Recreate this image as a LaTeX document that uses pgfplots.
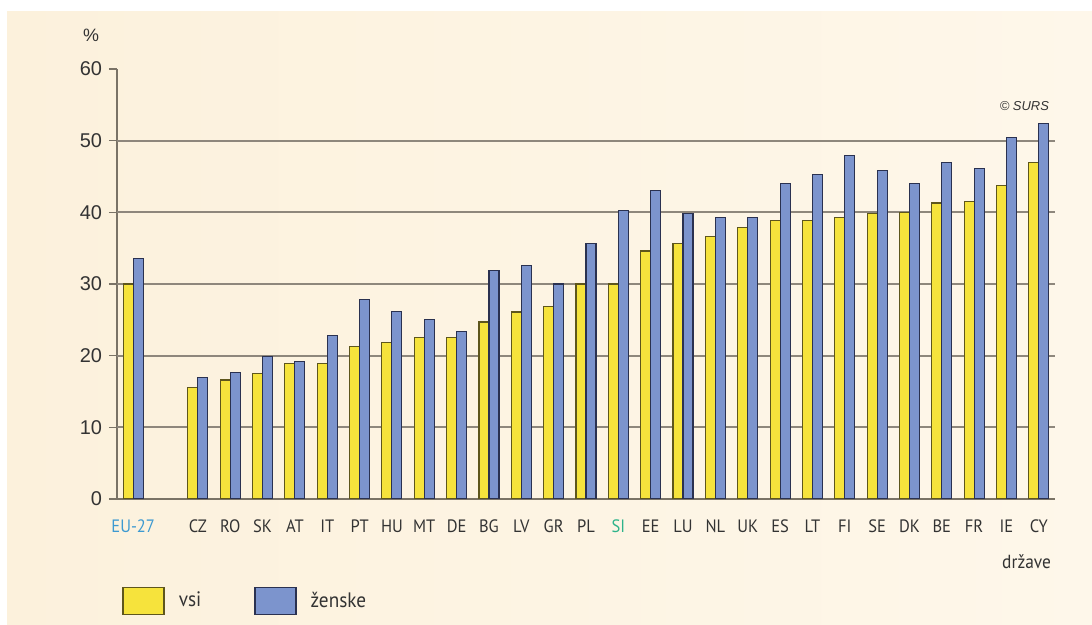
\documentclass[border=0pt]{standalone}
\usepackage{pgfplots}
\pgfplotsset{compat=1.18}
\usepackage{pgfplotstable}
\usepackage{fontspec}
\setmainfont{Liberation Sans}
\newfontfamily\catfont[FakeStretch=0.92]{PT Sans}

\definecolor{bgleft}{HTML}{FCF1DC}
\definecolor{bgright}{HTML}{FEF7EA}
\definecolor{barY}{HTML}{F6E33C}
\definecolor{barYedge}{HTML}{5E561C}
\definecolor{barB}{HTML}{7C94CD}
\definecolor{barBedge}{HTML}{2A3150}
\definecolor{gridc}{HTML}{8E877C}
\definecolor{axisc}{HTML}{7A7366}
\definecolor{txt}{HTML}{333333}
\definecolor{eublue}{HTML}{3D9AD1}
\definecolor{sigreen}{HTML}{2DB38A}

% share of population, total and women (%)
\pgfplotstableread{
pos vsi zenske
0  30.0 33.5
2  15.6 17.0
3  16.6 17.7
4  17.5 19.9
5  18.9 19.2
6  18.9 22.8
7  21.3 27.8
8  21.9 26.2
9  22.5 25.0
10 22.5 23.4
11 24.7 31.9
12 26.1 32.6
13 26.9 30.0
14 30.0 35.7
15 30.0 40.2
16 34.6 43.0
17 35.6 39.9
18 36.6 39.3
19 37.9 39.3
20 38.8 44.0
21 38.8 45.3
22 39.3 47.9
23 39.9 45.8
24 40.0 44.0
25 41.3 46.9
26 41.5 46.1
27 43.8 50.4
28 46.9 52.4
}\data

\begin{document}
\begin{tikzpicture}
\useasboundingbox (0,0) rectangle (546bp,312.5bp);
\fill[white] (0,0) rectangle (546bp,312.5bp);
\shade[left color=bgleft, right color=bgright] (3.5bp,0) rectangle (546bp,306.5bp);

\begin{axis}[
  at={(58.5bp,63bp)}, anchor=south west,
  scale only axis,
  width=469bp, height=215bp,
  xmin=-0.5, xmax=28.5,
  ymin=0, ymax=60,
  axis x line=bottom, axis y line=left,
  axis line style={draw=axisc, line width=0.9bp, -},
  ybar=0pt, bar width=5bp,
  xtick=data,
  xticklabels={\textcolor{eublue}{EU-27},CZ,RO,SK,AT,IT,PT,HU,MT,DE,BG,LV,GR,PL,\textcolor{sigreen}{SI},EE,LU,NL,UK,ES,LT,FI,SE,DK,BE,FR,IE,CY},
  xticklabel style={font=\catfont\fontsize{9}{11}\selectfont, text=txt, yshift=-3bp},
  x tick style={draw=none},
  ytick={0,10,...,60},
  yticklabel style={font=\fontsize{10}{12}\selectfont, text=txt},
  /pgf/number format/assume math mode=true,
  tick align=outside,
  y tick style={draw=axisc, line width=0.7bp},
  major tick length=4bp,
  extra y ticks={10,20,30,40,50},
  extra y tick labels={},
  extra y tick style={ymajorgrids=true, major tick length=0pt},
  grid style={draw=gridc, line width=0.9bp},
  legend columns=2,
  legend style={at={(axis description cs:0.0053,-0.237)}, anchor=west,
    draw=none, fill=none, inner sep=0pt,
    font=\catfont\fontsize{10.5}{12}\selectfont, text=txt,
    /tikz/every odd column/.append style={column sep=5bp},
    /tikz/every even column/.append style={column sep=24.5bp}},
  legend image code/.code={\draw[#1, line width=0.7bp] (0bp,-6.75bp) rectangle (20.5bp,6.75bp);},
]
\addplot[fill=barY, draw=barYedge, line width=0.55bp] table[x=pos, y=vsi] {\data};
\addplot[fill=barB, draw=barBedge, line width=0.55bp] table[x=pos, y=zenske] {\data};
\legend{vsi,ženske}
\end{axis}

\node[font=\fontsize{9}{11}\selectfont, text=txt] at (45.5bp,294.75bp) {\%};
\node[font=\itshape\fontsize{6.5}{8}\selectfont, text=txt, anchor=east] at (528bp,259.5bp) {© SURS};
\node[font=\catfont\fontsize{9.5}{11}\selectfont, text=txt, anchor=east] at (529bp,31.5bp) {države};
\end{tikzpicture}
\end{document}
